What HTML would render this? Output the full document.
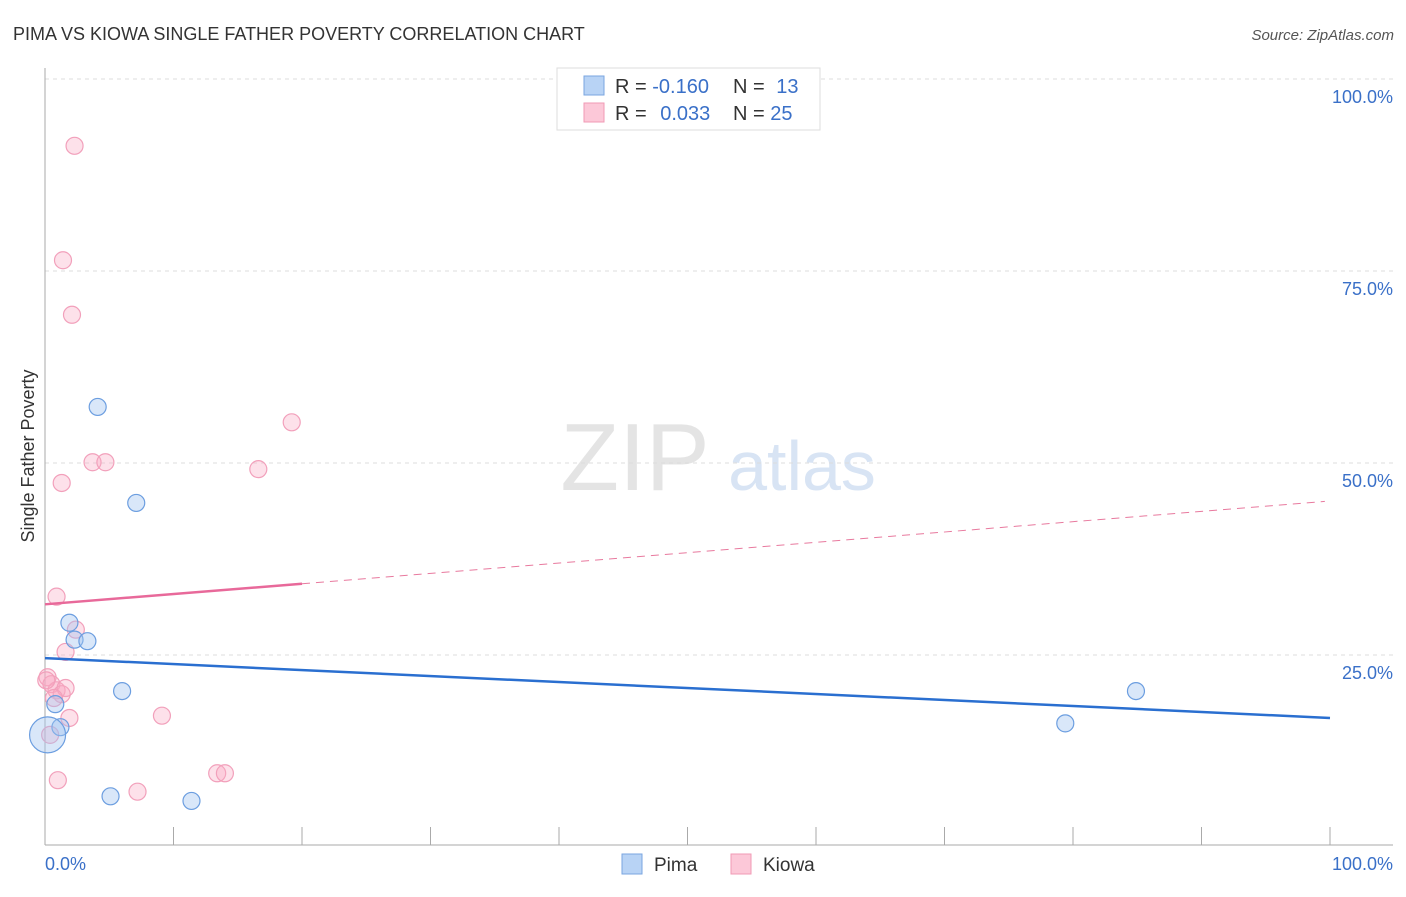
<!DOCTYPE html>
<html><head><meta charset="utf-8"><style>
body{margin:0;background:#fff;font-family:"Liberation Sans",sans-serif}
svg text{font-family:"Liberation Sans",sans-serif}
</style></head><body>
<svg id="c" width="1406" height="892">
<text x="13" y="40" font-size="18" fill="#333">PIMA VS KIOWA SINGLE FATHER POVERTY CORRELATION CHART</text>
<text x="1394" y="40" font-size="15" fill="#555" text-anchor="end" font-style="italic">Source: ZipAtlas.com</text>
<text x="34" y="456" font-size="18" fill="#333" text-anchor="middle" transform="rotate(-90 34 456)">Single Father Poverty</text>
<g><text x="635" y="490" font-size="96" fill="#e4e4e4" font-family="Liberation Serif" text-anchor="middle">ZIP</text><text x="802" y="490" font-size="70" fill="#d8e4f4" text-anchor="middle">atlas</text></g>
<g id="grid"></g><g id="axes"></g><g id="marks"></g>
<g>
<rect x="557" y="68" width="263" height="62" fill="#fff" stroke="#ddd"/>
<rect x="584" y="76" width="20" height="19" fill="#b8d3f5" stroke="#7aa6e0"/>
<rect x="584" y="103" width="20" height="19" fill="#fcc8d8" stroke="#f09ab5"/>
<text x="615" y="93" font-size="20" fill="#333">R = <tspan fill="#3a70c8">-0.160</tspan></text>
<text x="733" y="93" font-size="20" fill="#333">N = <tspan fill="#3a70c8" dx="6">13</tspan></text>
<text x="615" y="120" font-size="20" fill="#333">R = <tspan fill="#3a70c8" dx="8">0.033</tspan></text>
<text x="733" y="120" font-size="20" fill="#333">N = <tspan fill="#3a70c8">25</tspan></text>
</g>
<g>
<rect x="622" y="854" width="20" height="20" fill="#b8d3f5" stroke="#7aa6e0"/>
<text x="654" y="871" font-size="19" fill="#333">Pima</text>
<rect x="731" y="854" width="20" height="20" fill="#fcc8d8" stroke="#f09ab5"/>
<text x="763" y="871" font-size="19" fill="#333">Kiowa</text>
</g>
</svg>
<script>
const yTicks=[25,50,75,100];
const yTickLabels=["25.0%","50.0%","75.0%","100.0%"];
const xTicks=[0,10,20,30,40,50,60,70,80,90,100];
const pimaX=[4.1,7.1,1.9,2.3,3.3,6.0,0.8,1.2,0.2,5.1,11.4,79.4,84.9];
const pimaY=[57.3,44.8,29.2,27.0,26.8,20.3,18.6,15.6,14.6,6.6,6.0,16.1,20.3];
const pimaR=[8.5,8.5,8.5,8.5,8.5,8.5,8.5,8.5,18,8.5,8.5,8.5,8.5];
const kiowaX=[2.3,1.4,2.1,19.2,3.7,4.7,16.6,1.3,0.9,2.4,1.6,0.2,0.5,0.9,1.3,1.6,1.9,9.1,0.4,1.0,7.2,13.4,14.0,0.1,0.7];
const kiowaY=[91.3,76.4,69.3,55.3,50.1,50.1,49.2,47.4,32.6,28.3,25.4,22.1,21.2,20.4,19.9,20.7,16.8,17.1,14.6,8.7,7.2,9.6,9.6,21.7,19.4];
const pimaTrend=[24.6,16.8];
const kiowaTrend=[31.6,45.0];
const X=v=>45+v*12.85, Y=v=>847-v*7.68;
const NS="http://www.w3.org/2000/svg";
function mk(p,t,a){const e=document.createElementNS(NS,t);for(const k in a)e.setAttribute(k,a[k]);document.getElementById(p).appendChild(e);return e;}
yTicks.forEach((t,i)=>{
 const g=mk('grid','line',{x1:45,x2:1393,y1:Y(t),y2:Y(t),stroke:'#ddd','stroke-dasharray':'4,4'});
 
 
 const l=mk('grid','text',{x:1393,y:Y(t)+24,'font-size':18,fill:'#3a70c8','text-anchor':'end'});
 l.textContent=yTickLabels[i];
 
 
});
const ya=mk('axes','line',{x1:45,x2:45,y1:68,y2:845,stroke:'#aaa'});


const xa=mk('axes','line',{x1:45,x2:1393,y1:845,y2:845,stroke:'#aaa'});


xTicks.forEach(t=>{const e=mk('axes','line',{x1:X(t),x2:X(t),y1:827,y2:845,stroke:'#aaa'});
 
 });
const x0=mk('axes','text',{x:45,y:870,'font-size':18,fill:'#3a70c8'});x0.textContent='0.0%';


const x1=mk('axes','text',{x:1393,y:870,'font-size':18,fill:'#3a70c8','text-anchor':'end'});x1.textContent='100.0%';


kiowaX.forEach((x,i)=>{const c=mk('marks','circle',{cx:X(x),cy:Y(kiowaY[i]),r:8.5,fill:'rgba(248,170,196,0.35)',stroke:'#f2a0bb','stroke-width':1.2});
 
 });
pimaX.forEach((x,i)=>{const c=mk('marks','circle',{cx:X(x),cy:Y(pimaY[i]),r:pimaR[i],fill:'rgba(160,195,240,0.4)',stroke:'#6c9ee0','stroke-width':1.2});
 
 });
const kd=mk('marks','line',{x1:X(20),y1:Y(kiowaTrend[0]+(kiowaTrend[1]-kiowaTrend[0])*0.2),x2:X(99.6),y2:Y(kiowaTrend[1]),stroke:'#e8799e','stroke-width':1,'stroke-dasharray':'8,6'});


const ks=mk('marks','line',{x1:X(0),y1:Y(kiowaTrend[0]),x2:X(20),y2:Y(kiowaTrend[0]+(kiowaTrend[1]-kiowaTrend[0])*0.2),stroke:'#e8699a','stroke-width':2.5});


const pt=mk('marks','line',{x1:X(0),y1:Y(pimaTrend[0]),x2:X(100),y2:Y(pimaTrend[1]),stroke:'#2a6fd0','stroke-width':2.5});


</script>
</body></html>
